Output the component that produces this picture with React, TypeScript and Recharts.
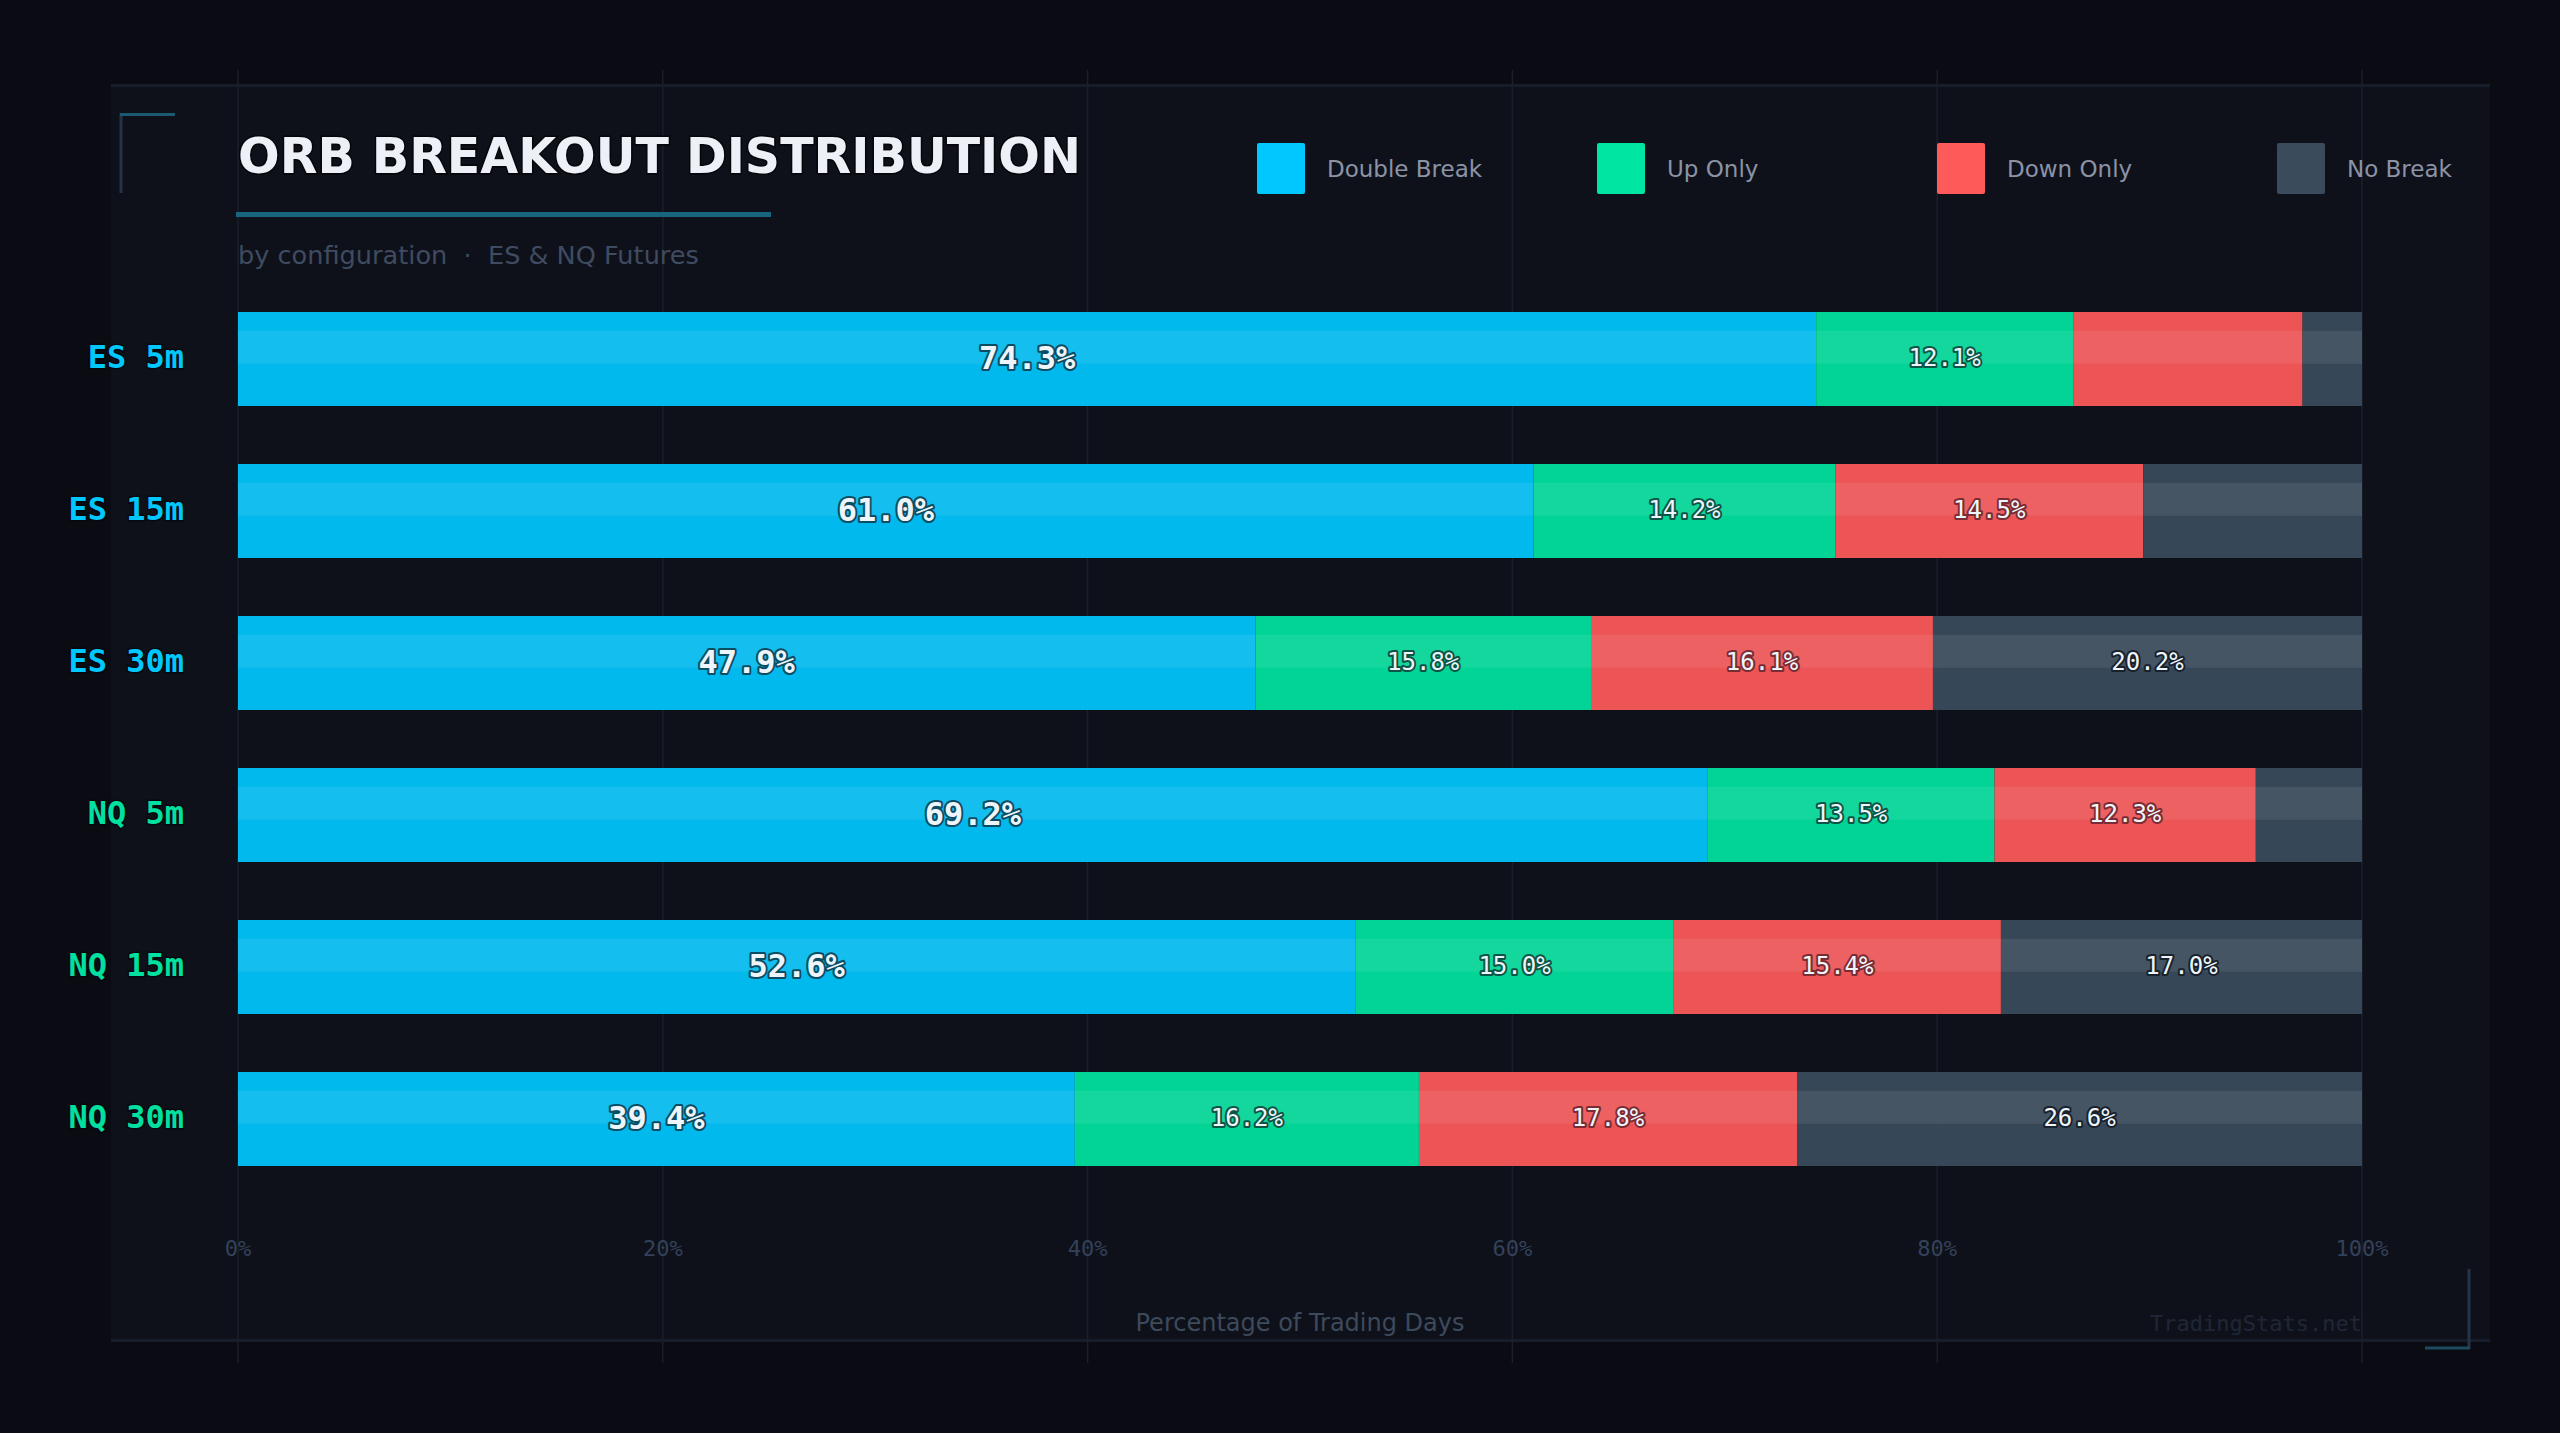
import React from "react";
import { BarChart, Bar, XAxis, YAxis, CartesianGrid, LabelList, Legend } from "recharts";

const CONFIGS = ["ES 5m", "ES 15m", "ES 30m", "NQ 5m", "NQ 15m", "NQ 30m"];
const DOUBLE_BREAK = [74.3, 61.0, 47.9, 69.2, 52.6, 39.4];
const UP_ONLY = [12.1, 14.2, 15.8, 13.5, 15.0, 16.2];
const DOWN_ONLY = [10.8, 14.5, 16.1, 12.3, 15.4, 17.8];
const NO_BREAK = [2.8, 10.3, 20.2, 5.0, 17.0, 26.6];
const X_TICKS = [0, 20, 40, 60, 80, 100];

const SERIES = [
    { key: "doubleBreak", name: "Double Break", color: "#00c8ff", halo: "#0b4d63", big: true },
    { key: "upOnly", name: "Up Only", color: "#00e5a0", halo: "#0a5545", big: false },
    { key: "downOnly", name: "Down Only", color: "#ff5a5a", halo: "#7a2b33", big: false },
    { key: "noBreak", name: "No Break", color: "#3a4c5c", halo: "#18212c", big: false },
];

const data = CONFIGS.map((config, i) => ({
    config,
    doubleBreak: DOUBLE_BREAK[i],
    upOnly: UP_ONLY[i],
    downOnly: DOWN_ONLY[i],
    noBreak: NO_BREAK[i],
}));

const MONO = "'DejaVu Sans Mono', monospace";
const SANS = "'DejaVu Sans', sans-serif";

function Segment(props: any) {
    const { x, y, width, height, fill } = props;
    if (!width || width <= 0) return null;
    return (
        <g>
            <rect x={x} y={y} width={width} height={height} fill={fill} fillOpacity={0.92} />
            <rect
                x={x}
                y={y + height * 0.2}
                width={width}
                height={height * 0.35}
                fill="#ffffff"
                fillOpacity={0.08}
            />
        </g>
    );
}

const makeLabel = (halo: string, big: boolean) => (props: any) => {
    const { x, y, width, height, value } = props;
    if (value == null || value < 11) return null;
    const size = big ? 32 : 24;
    return (
        <text
            x={x + width / 2}
            y={y + height / 2 + size * 0.365 - 1.5}
            textAnchor="middle"
            fontFamily={MONO}
            fontWeight={big ? 700 : 400}
            fontSize={size}
            fill="#eef5fa"
            stroke={halo}
            strokeWidth={4}
            strokeLinejoin="round"
            paintOrder="stroke"
        >
            {Number(value).toFixed(1)}%
        </text>
    );
};

function YTick(props: any) {
    const { x, y, payload } = props;
    const color = String(payload.value).startsWith("ES") ? "#00c8ff" : "#00e0a0";
    return (
        <text
            x={x}
            y={y + 9}
            textAnchor="end"
            fontFamily={MONO}
            fontWeight={700}
            fontSize={32}
            fill={color}
            stroke="#07080d"
            strokeWidth={3}
            paintOrder="stroke"
        >
            {payload.value}
        </text>
    );
}

function XTick(props: any) {
    const { x, y, payload } = props;
    return (
        <text x={x} y={y - 107} textAnchor="middle" fontFamily={MONO} fontSize={22} fill="#33425a">
            {payload.value}%
        </text>
    );
}

const renderLegend = () => (
    <div style={{ display: "flex" }}>
        {SERIES.map((s) => (
            <div key={s.key} style={{ width: 340, display: "flex", alignItems: "center" }}>
                <div style={{ width: 48, height: 51, background: s.color, borderRadius: 2, flexShrink: 0 }} />
                <span style={{ marginLeft: 22, fontFamily: SANS, fontSize: 23, color: "#8b93a6" }}>{s.name}</span>
            </div>
        ))}
    </div>
);

export default function App() {
    return (
        <div
            style={{
                position: "absolute",
                left: 0,
                top: 0,
                width: 2560,
                height: 1433,
                background: "#0a0b13",
                overflow: "hidden",
            }}
        >
            <div
                style={{
                    position: "absolute",
                    left: 111,
                    top: 84,
                    width: 2379,
                    height: 1258,
                    background: "#0f111a",
                    borderTop: "3px solid #181d2c",
                    borderBottom: "3px solid #181d2c",
                    boxSizing: "border-box",
                }}
            />
            <div style={{ position: "absolute", left: 0, top: 0 }}>
                <BarChart
                    width={2560}
                    height={1433}
                    data={data}
                    layout="vertical"
                    margin={{ top: 70, right: 198, bottom: 40, left: 0 }}
                    barSize={94}
                >
                    <CartesianGrid horizontal={false} stroke="#1a1f2e" strokeWidth={1.5} />
                    <XAxis
                        type="number"
                        domain={[0, 100]}
                        allowDataOverflow
                        ticks={X_TICKS}
                        height={30}
                        tickSize={0}
                        tickMargin={0}
                        axisLine={false}
                        tickLine={false}
                        tick={<XTick />}
                        interval={0}
                    />
                    <YAxis
                        type="category"
                        dataKey="config"
                        width={238}
                        tickSize={0}
                        tickMargin={54}
                        axisLine={false}
                        tickLine={false}
                        tick={<YTick />}
                        padding={{ top: 213, bottom: 168 }}
                        interval={0}
                    />
                    <Legend
                        layout="horizontal"
                        verticalAlign="middle"
                        align="center"
                        content={renderLegend}
                        wrapperStyle={{ left: 1257, top: 143, width: 1400 }}
                    />
                    {SERIES.map((s) => (
                        <Bar
                            key={s.key}
                            dataKey={s.key}
                            name={s.name}
                            stackId="a"
                            fill={s.color}
                            shape={<Segment />}
                            isAnimationActive={false}
                        >
                            <LabelList dataKey={s.key} content={makeLabel(s.halo, s.big)} />
                        </Bar>
                    ))}
                </BarChart>
            </div>
            <svg
                width={2560}
                height={1433}
                style={{ position: "absolute", left: 0, top: 0, pointerEvents: "none" }}
            >
                <line x1={121} y1={113} x2={121} y2={193} stroke="#263447" strokeWidth={3} />
                <line x1={120} y1={114.5} x2={175} y2={114.5} stroke="#1b5a70" strokeWidth={3} />
                <line x1={2469} y1={1269} x2={2469} y2={1349} stroke="#263447" strokeWidth={3} />
                <line x1={2425} y1={1348} x2={2470} y2={1348} stroke="#1d4a60" strokeWidth={3} />
                <text
                    x={238}
                    y={173}
                    fontFamily={SANS}
                    fontWeight={700}
                    fontSize={49}
                    fill="#eef0f8"
                    stroke="#05060a"
                    strokeWidth={3}
                    paintOrder="stroke"
                >
                    ORB BREAKOUT DISTRIBUTION
                </text>
                <rect x={236} y={212} width={535} height={5} fill="#17657e" />
                <text x={238} y={264} fontFamily={SANS} fontSize={25.6} fill="#3e4b60" xmlSpace="preserve">
                    {"by configuration  \u00b7  ES & NQ Futures"}
                </text>
                <text x={1300} y={1331} textAnchor="middle" fontFamily={SANS} fontSize={24} fill="#3d4a5c">
                    Percentage of Trading Days
                </text>
                <text x={2362} y={1331} textAnchor="end" fontFamily={MONO} fontSize={22} fill="#1f2737">
                    TradingStats.net
                </text>
            </svg>
        </div>
    );
}
